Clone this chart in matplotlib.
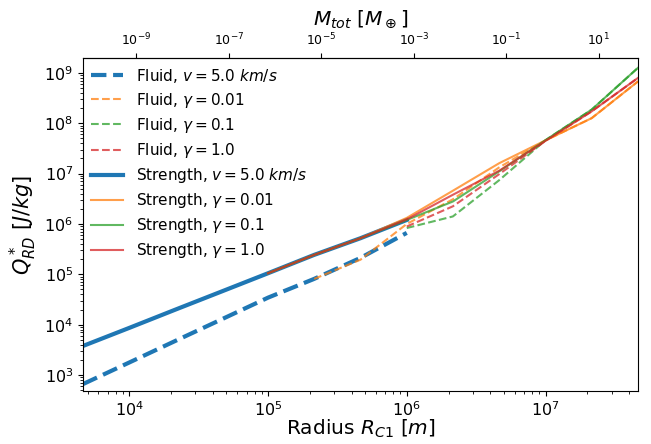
import numpy as np
import matplotlib
matplotlib.use('Agg')
import matplotlib.pyplot as plt

# 반경 격자 (m)
radius = [4.64e3, 1.0e4, 2.15e4, 4.64e4, 1.0e5, 2.15e5, 4.64e5,
          1.0e6, 2.15e6, 4.64e6, 1.0e7, 2.15e7, 4.64e7]

# v = 5 km/s 곡선 (처음 8개 반경)
fluid_v5 = [661, 1774, 4764, 1.28e4, 3.44e4, 8.11e4, 2.12e5, 6.65e5]
strength_v5 = [3776, 8630, 1.99e4, 4.57e4, 1.05e5, 2.43e5, 5.21e5, 1.20e6]

# gamma 곡선 - fluid
fluid_g001 = [8.11e4, 1.95e5, 1.0e6, 3.09e6, 1.33e7, 4.57e7, 1.26e8, 6.76e8]   # radius[5:]
fluid_g01 = [8.3e5, 1.41e6, 7.41e6, 4.61e7, 1.86e8, 1.26e9]                   # radius[7:]
fluid_g1 = [8.9e5, 2.24e6, 9.77e6, 4.47e7, 1.72e8, 7.94e8]                    # radius[7:]

# gamma 곡선 - strength (radius[4:])
strength_g001 = [1.05e5, 2.43e5, 5.21e5, 1.32e6, 4.57e6, 1.61e7, 4.57e7, 1.26e8, 6.76e8]
strength_g01 = [1.05e5, 2.43e5, 5.21e5, 1.20e6, 2.79e6, 1.11e7, 4.61e7, 1.86e8, 1.26e9]
strength_g1 = [1.05e5, 2.43e5, 5.21e5, 1.23e6, 3.80e6, 1.14e7, 4.47e7, 1.72e8, 7.94e8]

RHO = 1000.0
M_EARTH = 5.972e24


def r_to_mass(r):
    r = np.asarray(r, dtype=float)
    return 4.0 / 3.0 * np.pi * RHO * r ** 3 / M_EARTH


def mass_to_r(m):
    m = np.asarray(m, dtype=float)
    return np.cbrt(np.clip(m, 1e-300, None) * M_EARTH * 3.0 / (4.0 * np.pi * RHO))


fig = plt.figure(figsize=(6.51, 4.44), dpi=100)
ax = fig.add_axes([0.1275, 0.12, 0.8525, 0.749])

lw_thick = 3.0
lw_thin = 1.5
a = 0.75

ax.plot(radius[:8], fluid_v5, '--', color='C0', lw=lw_thick, label=r'Fluid, $v = 5.0\ km/s$')
ax.plot(radius[5:], fluid_g001, '--', color='C1', lw=lw_thin, alpha=a, label=r'Fluid, $\gamma = 0.01$')
ax.plot(radius[7:], fluid_g01, '--', color='C2', lw=lw_thin, alpha=a, label=r'Fluid, $\gamma = 0.1$')
ax.plot(radius[7:], fluid_g1, '--', color='C3', lw=lw_thin, alpha=a, label=r'Fluid, $\gamma = 1.0$')
ax.plot(radius[:8], strength_v5, '-', color='C0', lw=lw_thick, label=r'Strength, $v = 5.0\ km/s$')
ax.plot(radius[4:], strength_g001, '-', color='C1', lw=lw_thin, alpha=a, label=r'Strength, $\gamma = 0.01$')
ax.plot(radius[4:], strength_g01, '-', color='C2', lw=lw_thin, alpha=a, label=r'Strength, $\gamma = 0.1$')
ax.plot(radius[4:], strength_g1, '-', color='C3', lw=lw_thin, alpha=a, label=r'Strength, $\gamma = 1.0$')

ax.set_xscale('log')
ax.set_yscale('log')
ax.set_xlim(radius[0], radius[-1])
ax.set_ylim(488, 1.96e9)
ax.tick_params(axis='both', which='major', labelsize=11.5)
ax.set_xlabel(r'Radius $R_{C1}$ $[m]$', fontsize=14.5, labelpad=-1)
ax.set_ylabel(r'$Q^*_{RD}$ $[J/kg]$', fontsize=15)

# 상단 질량 축
sec = ax.secondary_xaxis('top', functions=(r_to_mass, mass_to_r))
sec.set_xscale('log')
sec.tick_params(axis='x', which='major', labelsize=9)
sec.tick_params(axis='x', which='minor', length=0)
sec.set_xlabel(r'$M_{tot}$ $[M_\oplus]$', fontsize=14.5, labelpad=5)

ax.legend(loc='upper left', frameon=False, fontsize=11,
          labelspacing=0.40, borderaxespad=0.15, handlelength=2.1)

plt.savefig('out.png', dpi=100)
plt.close()
